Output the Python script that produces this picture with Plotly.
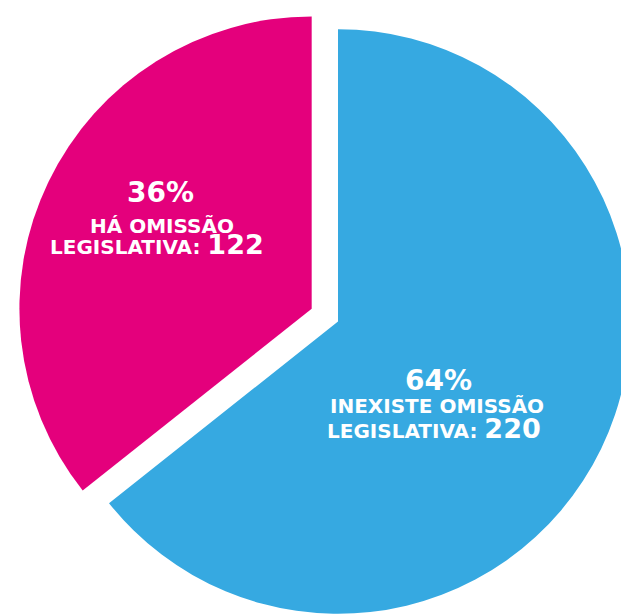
import plotly.graph_objects as go

# Respostas por categoria
labels = ["INEXISTE OMISSÃO LEGISLATIVA", "HÁ OMISSÃO LEGISLATIVA"]
label_lines = [["INEXISTE OMISSÃO", "LEGISLATIVA"], ["HÁ OMISSÃO", "LEGISLATIVA"]]
values = [220, 122]
colors = ["#36A9E1", "#E4007C"]

W, H = 676, 643
total = sum(values)
pcts = [round(100 * v / total) for v in values]

fig = go.Figure(
    go.Pie(
        labels=labels,
        values=values,
        sort=False,
        direction="clockwise",
        rotation=0,
        pull=[0, 0.1],
        marker=dict(colors=colors, line=dict(width=0)),
        textinfo="none",
        hoverinfo="skip",
        showlegend=False,
        domain=dict(x=[0, 1], y=[0, 1]),
    )
)

FONT = "DejaVu Sans"


def px(x):
    return x / W


def py(y):
    return 1 - y / H


# label anchor centres (pixels) for each slice: percent line, first line, second line
label_pos = [
    [(438, 380), (437.5, 406), (433.5, 428)],
    [(160.5, 192.5), (162, 226), (156.5, 245)],
]

annotations = []
for i in range(len(values)):
    (x1, y1), (x2, y2), (x3, y3) = label_pos[i]
    annotations.append(dict(
        x=px(x1), y=py(y1), xref="paper", yref="paper",
        text=f"<b>{pcts[i]}%</b>", showarrow=False,
        xanchor="center", yanchor="middle",
        font=dict(family=FONT, size=28, color="white"),
    ))
    annotations.append(dict(
        x=px(x2), y=py(y2), xref="paper", yref="paper",
        text=f"<b>{label_lines[i][0]}</b>", showarrow=False,
        xanchor="center", yanchor="middle",
        font=dict(family=FONT, size=20, color="white"),
    ))
    annotations.append(dict(
        x=px(x3), y=py(y3), xref="paper", yref="paper",
        text=f"<b>{label_lines[i][1]}: <span style='font-size:27px'>{values[i]}</span></b>",
        showarrow=False,
        xanchor="center", yanchor="middle",
        font=dict(family=FONT, size=20, color="white"),
    ))

fig.update_layout(
    width=W,
    height=H,
    margin=dict(l=0, r=0, t=0, b=0),
    paper_bgcolor="white",
    plot_bgcolor="white",
    annotations=annotations,
)

fig.write_html(
    "out.html",
    post_script="document.documentElement.style.overflow='hidden';"
                "document.body.style.overflow='hidden';"
                "document.body.style.margin='0';",
)
